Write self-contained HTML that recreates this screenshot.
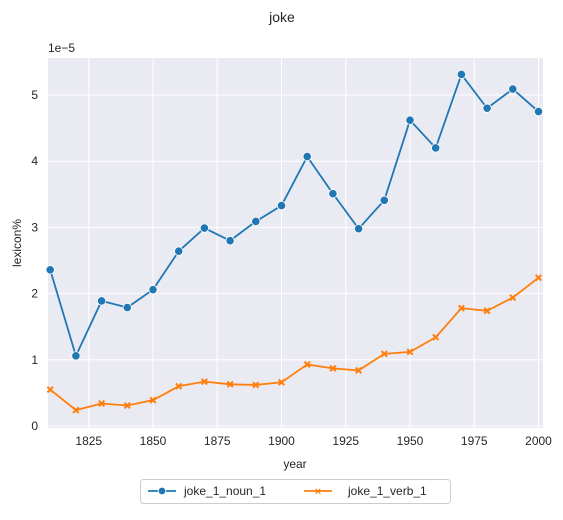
<!DOCTYPE html>
<html><head><meta charset="utf-8"><style>
body{margin:0;background:#fff;font-family:"Liberation Sans",Arial,sans-serif}
text{font-family:"Liberation Sans",Arial,sans-serif;fill:#262626}
</style></head><body>
<svg id="chart" width="563" height="515">
<text x="282" y="22" text-anchor="middle" font-size="14">joke</text>
<rect x="48" y="58" width="495" height="370" fill="#eaeaf2"/>
<g id="grid"></g><g id="series"></g><g id="ticks"></g>
<text x="48" y="52" font-size="12">1e−5</text>
<text x="295" y="468" text-anchor="middle" font-size="12">year</text>
<text transform="translate(21,243) rotate(-90)" text-anchor="middle" font-size="12">lexicon%</text>
<g>
<rect x="140.5" y="479.5" width="310" height="24" rx="3" fill="#fff" stroke="#ccc"/>
<g>
<line x1="148" y1="491" x2="176" y2="491" stroke="#1f77b4" stroke-width="1.8"/>
<circle cx="162" cy="491" r="3.8" fill="#1f77b4" stroke="#fff" stroke-width="0.8"/>
<text x="184" y="495" font-size="12">joke_1_noun_1</text></g>
<g>
<line x1="304" y1="491" x2="332" y2="491" stroke="#ff7f0e" stroke-width="1.8"/>
<text x="318" y="495" text-anchor="middle" font-size="11" font-weight="bold" style="fill:#ff7f0e">×</text>
<text x="348" y="495" font-size="12">joke_1_verb_1</text></g>
</g>
</svg>
<script>
const years=[1810,1820,1830,1840,1850,1860,1870,1880,1890,1900,1910,1920,1930,1940,1950,1960,1970,1980,1990,2000];
const nounValues=[2.36,1.06,1.89,1.79,2.06,2.64,2.99,2.80,3.09,3.33,4.07,3.51,2.98,3.41,4.62,4.20,5.31,4.80,5.09,4.75];
const verbValues=[0.55,0.24,0.34,0.31,0.39,0.60,0.67,0.63,0.62,0.66,0.93,0.87,0.84,1.09,1.12,1.34,1.78,1.74,1.94,2.24];
const xTicks=[1825,1850,1875,1900,1925,1950,1975,2000];
const yTicks=[0,1,2,3,4,5];
const NS="http://www.w3.org/2000/svg";
const X=y=>410+(y-1950)*2.57;
const Y=v=>426-v*66.2;
function mk(tag,attrs,parent){const e=document.createElementNS(NS,tag);for(const k in attrs)e.setAttribute(k,attrs[k]);document.getElementById(parent).appendChild(e);return e;}
xTicks.forEach(t=>{
 const l=mk('line',{x1:X(t),x2:X(t),y1:58,y2:428,stroke:'#fff','stroke-width':1},'grid');
 
 
 const tx=mk('text',{x:X(t),y:445,'text-anchor':'middle','font-size':12},'ticks');tx.textContent=t;
 
 
});
yTicks.forEach(t=>{
 const l=mk('line',{x1:48,x2:543,y1:Y(t),y2:Y(t),stroke:'#fff','stroke-width':1},'grid');
 
 
 const tx=mk('text',{x:38,y:Y(t)+4,'text-anchor':'end','font-size':12},'ticks');tx.textContent=t;
 
 
});
function line(vals,color,name){
 const p=mk('polyline',{points:vals.map((v,i)=>X(years[i])+','+Y(v)).join(' '),fill:'none',stroke:color,'stroke-width':1.8},'series');
 
 
}
line(nounValues,'#1f77b4','noun');
line(verbValues,'#ff7f0e','verb');
nounValues.forEach((v,i)=>{
 const c=mk('circle',{cx:X(years[i]),cy:Y(v),r:4.2,fill:'#1f77b4',stroke:'#fff','stroke-width':0.8},'series');
 
 
});
verbValues.forEach((v,i)=>{
 const x=X(years[i]),y=Y(v),s=2.8;
 const p=mk('path',{d:`M${x-s},${y-s}L${x+s},${y+s}M${x-s},${y+s}L${x+s},${y-s}`,stroke:'#ff7f0e','stroke-width':2},'series');
 
 
});
</script>
</body></html>
